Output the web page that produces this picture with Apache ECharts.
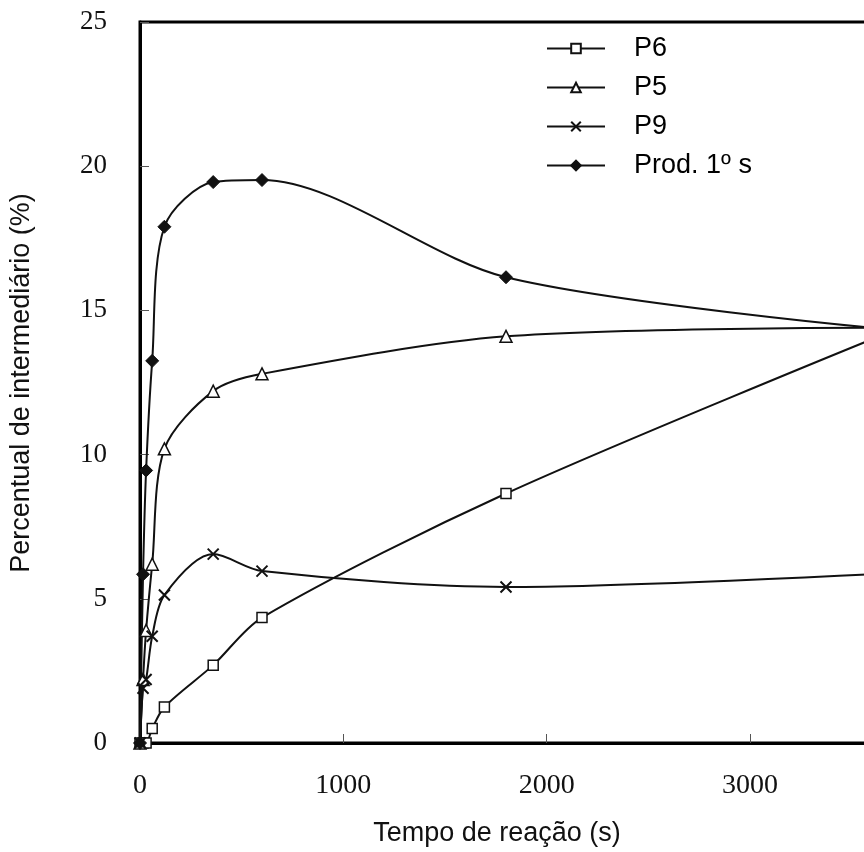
<!DOCTYPE html>
<html><head><meta charset="utf-8">
<script src="https://cdn.jsdelivr.net/npm/echarts@6/dist/echarts.min.js"></script>
<style>html,body{margin:0;padding:0;background:#fff;overflow:hidden;width:864px;height:852px}#c{width:880px;height:852px}</style>
</head><body><div id="c"></div>
<script>
// Reaction time (s)
const times = [0, 15, 30, 60, 120, 360, 600, 1800, 3600];
const seriesNames = ['P6', 'P5', 'P9', 'Prod. 1º s'];
const p6 = [0, 0, 0, 0.5, 1.25, 2.7, 4.35, 8.65, 14.0];
const p5 = [0, 2.2, 3.9, 6.2, 10.2, 12.2, 12.8, 14.1, 14.4];
const p9 = [0, 1.9, 2.2, 3.7, 5.13, 6.55, 5.96, 5.41, 5.85];
const prod = [0, 5.85, 9.45, 13.25, 17.9, 19.45, 19.52, 16.15, 14.4];
const xTicks = [0, 1000, 2000, 3000];
const yTicks = [0, 5, 10, 15, 20, 25];
const xTitle = 'Tempo de reação (s)';
const yTitle = 'Percentual de intermediário (%)';

const pair = arr => times.map((t, i) => [t, arr[i]]);
const crossPath = 'path://M0,0L10,10M10,0L0,10';

function mk(name, data, symbol, size, item) {
  return {
    name, type: 'line', data: pair(data), smooth: 0.3,
    symbol, symbolSize: size, showSymbol: true,
    lineStyle: { color: '#111', width: 2 },
    itemStyle: item, z: 3, animation: false
  };
}

const chart = echarts.init(document.getElementById('c'));
chart.setOption({
  animation: false,
  backgroundColor: '#fff',
  grid: { left: 140, top: 22, right: 8, bottom: 109, show: true, borderColor: '#000', borderWidth: 3, backgroundColor: 'transparent' },
  xAxis: {
    type: 'value', min: 0, max: 3600, interval: 1000,
    axisLine: { show: true, lineStyle: { color: '#000', width: 3 } },
    axisTick: { show: true, inside: true, length: 9, lineStyle: { color: '#555', width: 1 } },
    axisLabel: { fontFamily: 'Liberation Serif', fontSize: 28, color: '#111', margin: 29, showMaxLabel: false,
      formatter: v => xTicks.includes(v) ? String(v) : '' },
    splitLine: { show: false }
  },
  yAxis: {
    type: 'value', min: 0, max: 25, interval: 5,
    axisLine: { show: true, lineStyle: { color: '#000', width: 3 } },
    axisTick: { show: true, inside: true, length: 9, lineStyle: { color: '#555', width: 1 } },
    axisLabel: { fontFamily: 'Liberation Serif', fontSize: 27, color: '#111', margin: 33,
      formatter: v => yTicks.includes(v) ? String(v) : '' },
    splitLine: { show: false }
  },
  legend: {
    orient: 'vertical', left: 541, top: 30, itemWidth: 58, itemHeight: 12, itemGap: 12,
    data: seriesNames,
    textStyle: { fontFamily: 'Liberation Sans', fontSize: 27, color: '#000', padding: [0, 0, 0, 24], lineHeight: 26 }
  },
  graphic: [
    { type: 'text', x: 497, y: 834, style: { text: xTitle, fontFamily: 'Liberation Sans', fontSize: 27, fill: '#111', align: 'center', verticalAlign: 'middle' } },
    { type: 'text', x: 22, y: 383, rotation: Math.PI / 2, style: { text: yTitle, fontFamily: 'Liberation Sans', fontSize: 27, fill: '#111', align: 'center', verticalAlign: 'middle' } }
  ],
  series: [
    mk(seriesNames[0], p6, 'rect', 10, { color: '#fff', borderColor: '#111', borderWidth: 1.5 }),
    mk(seriesNames[1], p5, 'triangle', 12, { color: '#fff', borderColor: '#111', borderWidth: 1.5 }),
    mk(seriesNames[2], p9, crossPath, 11, { color: 'transparent', borderColor: '#111', borderWidth: 2 }),
    mk(seriesNames[3], prod, 'diamond', 13, { color: '#111', borderColor: '#111', borderWidth: 1 })
  ]
});
</script></body></html>
